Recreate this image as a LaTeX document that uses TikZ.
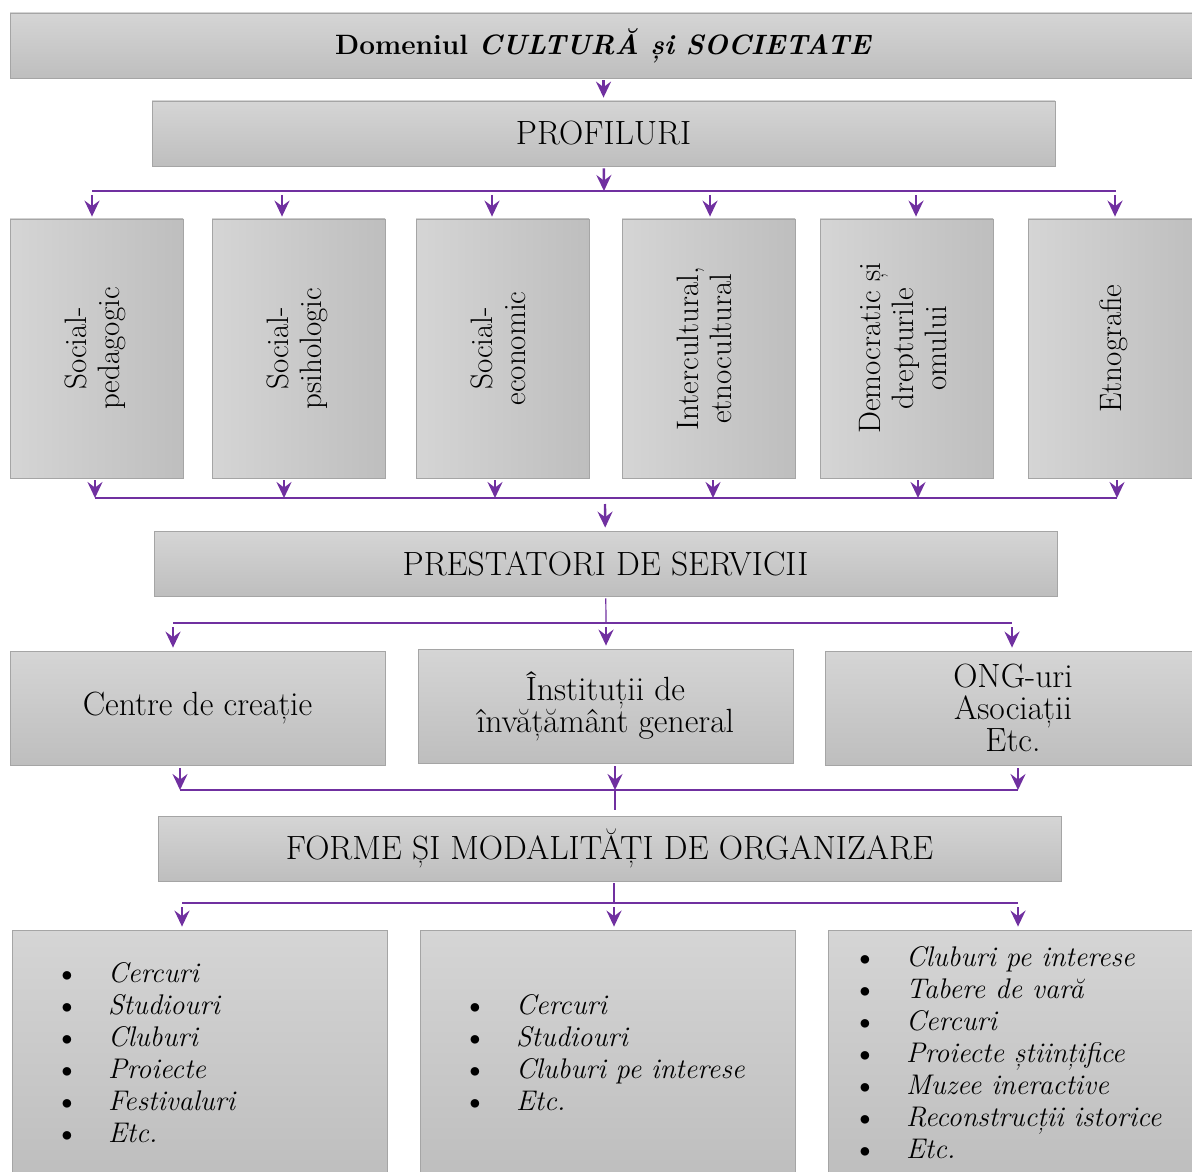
\documentclass[tikz,border=0pt]{standalone}
\usepackage{tikz}
\usetikzlibrary{positioning}
\usetikzlibrary{arrows.meta}
\definecolor{lila}{RGB}{112,48,160}
\definecolor{boxtop}{RGB}{213,213,213}
\definecolor{boxbot}{RGB}{190,190,190}
\definecolor{boxline}{RGB}{165,165,165}
\tikzstyle{hb} = [rectangle, align=center, draw=boxline, top color=boxtop, bottom color=boxbot, inner sep=0pt, font=\fontsize{16.8}{16}\selectfont]
\tikzstyle{vb} = [rectangle, align=center, draw=boxline, left color=boxtop, right color=boxbot, minimum width=86.5pt, minimum height=129.5pt, inner sep=0pt, font=\fontsize{15.5}{16.5}\selectfont]
\tikzstyle{lst} = [rectangle, draw=boxline, top color=boxtop, bottom color=boxbot, minimum width=187.5pt, minimum height=123pt, inner sep=0pt, font=\fontsize{14.2}{16}\selectfont]
\tikzstyle{ar} = [line width=1.2pt, draw=lila, ->]
\tikzstyle{bus} = [line width=1.2pt, draw=lila]
\tikzstyle{stem} = [line width=0.6pt, draw=lila]
\newcommand{\vtext}[1]{\rotatebox{90}{\begin{tabular}{@{}c@{}}#1\end{tabular}}}
\newcommand{\itm}[1]{\makebox[20.5pt][l]{\makebox[0pt]{\raisebox{-0.3pt}{\scalebox{1.12}{\textbullet}}}}\textit{#1}}
\newcommand{\lista}[2]{\makebox[187.5pt][l]{\hspace{#1}\raisebox{-1.5pt}[\height][\depth]{\begin{tabular}{@{}l@{}}#2\end{tabular}}}}

\begin{document}
\begin{tikzpicture}[x=0.5pt, y=-0.5pt, >={Stealth[length=8pt, width=7.5pt, inset=2.8pt]}]
    \clip (0,0) rectangle (1192,1171);
    \node (dom) [hb, minimum width=593.5pt, minimum height=32.5pt, font=\fontsize{14}{16}\selectfont\bfseries] at (603.5,45.5) {Domeniul \textit{CULTURĂ și SOCIETATE}};
    \node (prof) [hb, minimum width=451.5pt, minimum height=32.5pt] at (603.5,133.5) {PROFILURI};
    \node (sp) [vb] at (96.5,348.5) {\vtext{Social-\\pedagogic}};
    \node (ps) [vb] at (298.5,348.5) {\vtext{Social-\\psihologic}};
    \node (se) [vb] at (502.5,348.5) {\vtext{Social-\\economic}};
    \node (ie) [vb] at (708.5,348.5) {\vtext{Intercultural,\\etnocultural}};
    \node (dd) [vb] at (906.5,348.5) {\vtext{Democratic și\\drepturile\\omului}};
    \node (et) [vb] at (1114.5,348.5) {\vtext{Etnografie}};
    \node (prest) [hb, minimum width=451.5pt, minimum height=32.5pt] at (605.5,563.5) {PRESTATORI DE SERVICII};
    \node (cc) [hb, minimum width=187.5pt, minimum height=57pt] at (197.5,708) {Centre de creație};
    \node (ii) [hb, minimum width=187.5pt, minimum height=57pt] at (605.5,706) {Înstituții de\\învățământ general};
    \node (ong) [hb, minimum width=187.5pt, minimum height=57pt] at (1013,708) {ONG-uri\\Asociații\\Etc.};
    \node (forme) [hb, minimum width=451.5pt, minimum height=32.5pt] at (609.5,848.5) {FORME ȘI MODALITĂȚI DE ORGANIZARE};
    \node (l1) [lst] at (199.5,1053) {\lista{27.5pt}{\itm{Cercuri}\\\itm{Studiouri}\\\itm{Cluburi}\\\itm{Proiecte}\\\itm{Festivaluri}\\\itm{Etc.}}};
    \node (l2) [lst] at (607.5,1053) {\lista{27.5pt}{\itm{Cercuri}\\\itm{Studiouri}\\\itm{Cluburi pe interese}\\\itm{Etc.}}};
    \node (l3) [lst] at (1015.5,1053) {\lista{18.5pt}{\itm{Cluburi pe interese}\\\itm{Tabere de vară}\\\itm{Cercuri}\\\itm{Proiecte științifice}\\\itm{Muzee ineractive}\\\itm{Reconstrucții istorice}\\\itm{Etc.}}};

    \draw[ar, shorten <=1pt, shorten >=1.5pt] (dom) -- (prof);
    \coordinate (b1) at (604,191);
    \coordinate (b1w) at (92,191);
    \coordinate (b1e) at (1116,191);
    \draw[ar, shorten <=1pt] (prof) -- (b1);
    \draw[bus] (b1w) -- (b1e);
    \foreach \n/\x in {sp/92, ps/282, se/492, ie/710, dd/916, et/1115} {
        \coordinate (t\n) at (\x,195);
        \draw[ar, shorten >=1pt] (t\n) -- (t\n |- \n.north);
    }
    \foreach \n/\x in {sp/95, ps/284, se/495, ie/713, dd/918, et/1117} {
        \coordinate (u\n) at (\x,498);
        \draw[ar, shorten <=1pt] (u\n |- \n.south) -- (u\n);
    }
    \draw[bus] (usp) -- (uet);
    \coordinate (b2) at (605,504);
    \draw[ar, shorten >=1.5pt] (b2) -- (prest);

    \coordinate (b3) at (606,623);
    \coordinate (b3w) at (173,623);
    \coordinate (b3e) at (1012,623);
    \draw[stem, shorten <=1pt] (prest) -- (b3);
    \draw[bus] (b3w) -- (b3e);
    \foreach \n/\x in {cc/173, ii/606, ong/1012} {
        \coordinate (t\n) at (\x,627);
        \draw[ar, shorten >=1.5pt] (t\n) -- (t\n |- \n.north);
    }
    \foreach \n/\x in {cc/180, ii/615, ong/1018} {
        \coordinate (u\n) at (\x,790);
        \draw[ar, shorten <=1.5pt] (u\n |- \n.south) -- (u\n);
    }
    \draw[bus] (ucc) -- (uong);
    \draw[stem, shorten >=3pt] (uii) -- (uii |- forme.north);

    \coordinate (b5) at (614,903);
    \coordinate (b5w) at (182,903);
    \coordinate (b5e) at (1018,903);
    \draw[stem, shorten <=1pt] (forme.south -| b5) -- (b5);
    \draw[bus] (b5w) -- (b5e);
    \foreach \n/\x in {l1/182, l2/614, l3/1018} {
        \coordinate (t\n) at (\x,907);
        \draw[ar, shorten >=1.5pt] (t\n) -- (t\n |- \n.north);
    }
\end{tikzpicture}
\end{document}
